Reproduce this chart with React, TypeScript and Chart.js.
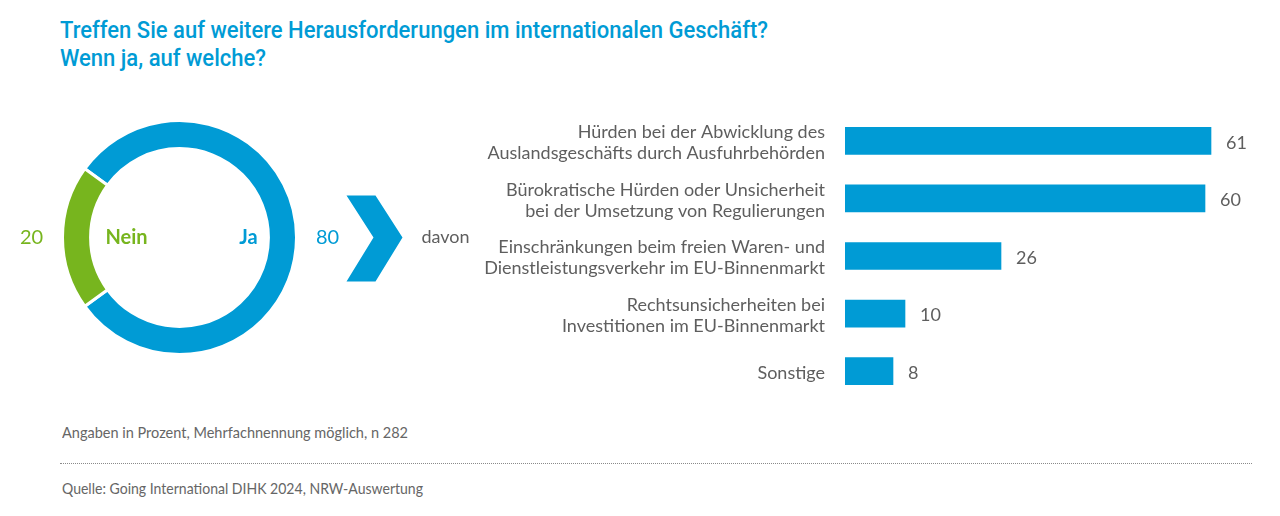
import React, { useEffect, useLayoutEffect, useRef } from "react";
import { Chart, registerables } from "chart.js";
Chart.register(...registerables);

const titleLines = [
  "Treffen Sie auf weitere Herausforderungen im internationalen Geschäft?",
  "Wenn ja, auf welche?",
];
const donutLabels = ["Ja", "Nein"];
const donutValues = [80, 20];
const donutColors = ["#009bd5", "#77b51e"];
const arrowText = "davon";

const barCategories = [
  ["Hürden bei der Abwicklung des", "Auslandsgeschäfts durch Ausfuhrbehörden"],
  ["Bürokratische Hürden oder Unsicherheit", "bei der Umsetzung von Regulierungen"],
  ["Einschränkungen beim freien Waren- und", "Dienstleistungsverkehr im EU-Binnenmarkt"],
  ["Rechtsunsicherheiten bei", "Investitionen im EU-Binnenmarkt"],
  ["Sonstige"],
];
const barValues = [61, 60, 26, 10, 8];
const footnote = "Angaben in Prozent, Mehrfachnennung möglich, n 282";
const source = "Quelle: Going International DIHK 2024, NRW-Auswertung";

const BLUE = "#009bd5";
const GRAY = "#5e5e5e";
const LABEL_FONT = "Lato, 'Open Sans', sans-serif";

const donutLabelPlugin = {
  id: "donutLabels",
  afterDraw(chart: any) {
    const meta = chart.getDatasetMeta(0);
    const ja = meta.data[0];
    const cx = ja.x;
    const cy = ja.y;
    const outer = ja.outerRadius;
    const inner = ja.innerRadius;
    const ctx = chart.ctx;
    ctx.save();
    ctx.textBaseline = "middle";
    ctx.textAlign = "center";
    ctx.fillStyle = donutColors[1];
    ctx.font = `400 20px ${LABEL_FONT}`;
    ctx.fillText(String(donutValues[1]), cx - outer - 31, cy);
    ctx.font = `700 20px ${LABEL_FONT}`;
    ctx.fillText(donutLabels[1], cx - inner + 36, cy);
    ctx.fillStyle = donutColors[0];
    ctx.fillText(donutLabels[0], cx + inner - 20, cy);
    ctx.font = `400 20px ${LABEL_FONT}`;
    ctx.fillText(String(donutValues[0]), cx + outer + 31, cy);
    // chevron
    const x0 = cx + 167;
    ctx.beginPath();
    ctx.moveTo(x0, cy - 42);
    ctx.lineTo(x0 + 29, cy - 42);
    ctx.lineTo(x0 + 56, cy);
    ctx.lineTo(x0 + 29, cy + 44);
    ctx.lineTo(x0, cy + 44);
    ctx.lineTo(x0 + 27, cy);
    ctx.closePath();
    ctx.fillStyle = BLUE;
    ctx.fill();
    ctx.fillStyle = GRAY;
    ctx.textAlign = "left";
    ctx.font = `400 18px ${LABEL_FONT}`;
    ctx.fillText(arrowText, x0 + 75, cy);
    ctx.restore();
  },
};

const barValuePlugin = {
  id: "barValues",
  afterDatasetsDraw(chart: any) {
    const meta = chart.getDatasetMeta(0);
    const ctx = chart.ctx;
    ctx.save();
    ctx.fillStyle = GRAY;
    ctx.font = `400 18px ${LABEL_FONT}`;
    ctx.textAlign = "left";
    ctx.textBaseline = "middle";
    meta.data.forEach((bar: any, i: number) => {
      ctx.fillText(String(barValues[i]), bar.x + 15, bar.y + 2);
    });
    ctx.restore();
  },
};

function FitText(props: { text: string; width: number; style: any }) {
  const ref = useRef<HTMLSpanElement>(null);
  useLayoutEffect(() => {
    const fit = () => {
      const el = ref.current;
      if (!el) return;
      el.style.transform = "none";
      const w = el.getBoundingClientRect().width;
      if (w > 0) el.style.transform = `scaleX(${props.width / w})`;
    };
    fit();
    (document as any).fonts?.ready?.then(fit);
  }, [props.text, props.width]);
  return (
    <span
      ref={ref}
      style={{
        display: "inline-block",
        whiteSpace: "nowrap",
        transformOrigin: "0 0",
        ...props.style,
      }}
    >
      {props.text}
    </span>
  );
}

export default function App() {
  const donutRef = useRef<HTMLCanvasElement>(null);
  const barRef = useRef<HTMLCanvasElement>(null);

  useEffect(() => {
    const donut = new Chart(donutRef.current!, {
      type: "doughnut",
      data: {
        labels: donutLabels,
        datasets: [
          {
            data: donutValues,
            backgroundColor: donutColors,
            borderColor: "#ffffff",
            borderWidth: 3,
          },
        ],
      },
      options: {
        responsive: false,
        animation: false,
        rotation: -54,
        cutout: "76%",
        layout: { padding: { left: 61, right: 182, top: 0, bottom: 0 } },
        plugins: { legend: { display: false }, tooltip: { enabled: false } },
        events: [],
      },
      plugins: [donutLabelPlugin],
    });

    const bars = new Chart(barRef.current!, {
      type: "bar",
      data: {
        labels: barCategories,
        datasets: [
          {
            data: barValues,
            backgroundColor: BLUE,
            barThickness: 27,
            borderWidth: 0,
          },
        ],
      },
      options: {
        indexAxis: "y",
        responsive: false,
        animation: false,
        layout: { padding: 0 },
        scales: {
          x: { display: false, min: 0, max: 70 },
          y: {
            afterFit(scale: any) {
              scale.width = 385;
              scale.paddingTop = 0;
              scale.paddingBottom = 0;
            },
            grid: { display: false, drawTicks: false },
            border: { display: false },
            ticks: {
              padding: 20,
              labelOffset: 2,
              color: GRAY,
              font: { family: LABEL_FONT, size: 18, lineHeight: 1.18 },
            },
          },
        },
        plugins: { legend: { display: false }, tooltip: { enabled: false } },
        events: [],
      },
      plugins: [barValuePlugin],
    });

    return () => {
      donut.destroy();
      bars.destroy();
    };
  }, []);

  const titleStyle = {
    fontFamily: "Roboto, 'Open Sans', sans-serif",
    fontWeight: 500,
    fontSize: 24,
    lineHeight: "28px",
    color: BLUE,
  };
  const noteStyle = {
    fontFamily: "Lato, 'Open Sans', sans-serif",
    fontSize: 15,
    lineHeight: "18px",
    color: "#666666",
  };

  return (
    <div
      style={{
        position: "absolute",
        left: 0,
        top: 0,
        width: 1280,
        height: 516,
        background: "#ffffff",
        overflow: "hidden",
      }}
    >
      <div style={{ position: "absolute", left: 60, top: 16 }}>
        <div style={{ height: 28 }}>
          <FitText text={titleLines[0]} width={708} style={titleStyle} />
        </div>
        <div style={{ height: 28 }}>
          <FitText text={titleLines[1]} width={206} style={titleStyle} />
        </div>
      </div>
      <canvas
        ref={donutRef}
        width={480}
        height={237}
        style={{ position: "absolute", left: 0, top: 119 }}
      />
      <canvas
        ref={barRef}
        width={805}
        height={288}
        style={{ position: "absolute", left: 460, top: 112 }}
      />
      <div style={{ position: "absolute", left: 62, top: 423 }}>
        <FitText text={footnote} width={346} style={noteStyle} />
      </div>
      <div
        style={{
          position: "absolute",
          left: 60,
          top: 463,
          width: 1192,
          borderTop: "1px dotted #8a8a8a",
        }}
      />
      <div style={{ position: "absolute", left: 62, top: 479 }}>
        <FitText text={source} width={361} style={noteStyle} />
      </div>
    </div>
  );
}
